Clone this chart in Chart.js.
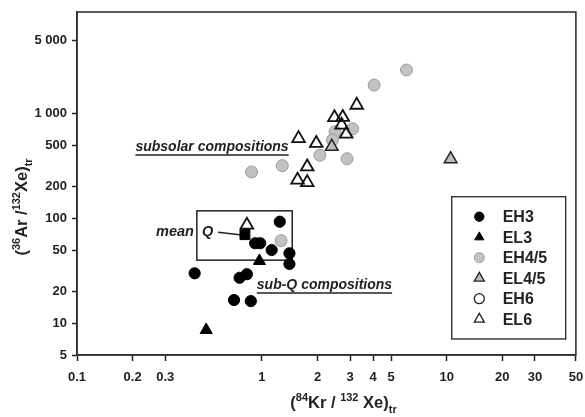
<!DOCTYPE html>
<html><head><meta charset="utf-8">
<script src="https://cdn.jsdelivr.net/npm/chart.js@4.4.1/dist/chart.umd.min.js"></script>
<style>html,body{margin:0;padding:0;background:#fff;} canvas{display:block;}</style>
</head><body>
<canvas id="c" width="585" height="417" style="width:585px;height:417px"></canvas>
<script>
// ---- tick labels ----
const xTicks = [0.1,0.2,0.3,1,2,3,4,5,10,20,30,50];
const xTickLabels = ['0.1','0.2','0.3','1','2','3','4','5','10','20','30','50'];
const yTicks = [5,10,20,50,100,200,500,1000,5000];
const yTickLabels = ['5','10','20','50','100','200','500','1 000','5 000'];

// ---- series (84Kr/132Xe, 36Ar/132Xe) ----
const EH3_x  = [1.25,0.92,0.98,1.13,1.41,1.41,0.433,0.758,0.83,0.707,0.872];
const EH3_y  = [93,58,58,50,46.5,36.8,30,27.2,29.4,16.7,16.3];
const EL3_x  = [0.97,0.50];
const EL3_y  = [39.3,8.65];
const EH45_x = [6.06,4.05,2.49,3.10,2.41,2.06,2.89,1.29,0.88,1.27];
const EH45_y = [2590,1860,670,714,558,399,370,318,277,61.3];
const EL45_x = [2.39,10.5];
const EL45_y = [482,368];
const EH6_x  = [];
const EH6_y  = [];
const EL6_x  = [3.26,2.47,2.74,2.70,2.86,1.58,1.97,1.76,1.56,1.76,0.83];
const EL6_y  = [1200,914,918,775,636,577,519,310,232,220,86.5];
const meanQ_x = [0.81];
const meanQ_y = [70];

// ---- annotation anchors (data units) ----
const qBoxX = [0.445, 1.46];
const qBoxY = [40, 118];
const subsolarAt = [0.207, 478];
const subQAt = [0.939, 23.2];
const meanQAt = [0.546, 74];
const meanQLine = [[0.58, 73.7],[0.78, 69.5]];

const pts = (xs, ys) => xs.map((v,i)=>({x:v, y:ys[i]}));
const FONT = '"Liberation Sans", Arial, Helvetica, sans-serif';

const legendItems = [
  {label:'EH3', style:'circle', fill:'#000', stroke:'#000', r:4.7, lw:1},
  {label:'EL3', style:'triangle', fill:'#000', stroke:'#000', r:5.3, lw:1},
  {label:'EH4/5', style:'circle', fill:'#c2c2c2', stroke:'#9c9c9c', r:5, lw:1},
  {label:'EL4/5', style:'triangle', fill:'#bdbdbd', stroke:'#222', r:5.8, lw:1.3},
  {label:'EH6', style:'circle', fill:'#fff', stroke:'#222', r:5, lw:1.3},
  {label:'EL6', style:'triangle', fill:'#fff', stroke:'#222', r:5.8, lw:1.3}
];

function marker(ctx, it, x, y){
  ctx.beginPath();
  if (it.style === 'circle') {
    ctx.arc(x, y, it.r, 0, Math.PI*2);
  } else {
    const r = it.r;
    ctx.moveTo(x, y - r);
    ctx.lineTo(x + r*Math.sin(2*Math.PI/3), y - r*Math.cos(2*Math.PI/3));
    ctx.lineTo(x + r*Math.sin(4*Math.PI/3), y - r*Math.cos(4*Math.PI/3));
    ctx.closePath();
  }
  ctx.fillStyle = it.fill; ctx.fill();
  ctx.strokeStyle = it.stroke; ctx.lineWidth = it.lw; ctx.stroke();
}

function rich(ctx, parts, cx, cy){
  let total = 0;
  parts.forEach(p => { ctx.font = `bold ${p.s}px ${FONT}`; p.w = ctx.measureText(p.t).width; total += p.w; });
  let xx = cx - total/2;
  ctx.textAlign = 'left'; ctx.textBaseline = 'alphabetic';
  parts.forEach(p => { ctx.font = `bold ${p.s}px ${FONT}`; ctx.fillText(p.t, xx, cy + (p.dy||0)); xx += p.w; });
}

const decor = {
  id: 'decor',
  beforeDatasetsDraw(chart){
    const {ctx, chartArea:a, scales:{x, y}} = chart;
    ctx.save();
    ctx.strokeStyle = '#333'; ctx.lineWidth = 1.6;
    ctx.strokeRect(a.left, a.top, a.right - a.left, a.bottom - a.top);
    // mean-Q box
    const bx1 = x.getPixelForValue(qBoxX[0]), bx2 = x.getPixelForValue(qBoxX[1]);
    const by1 = y.getPixelForValue(qBoxY[1]), by2 = y.getPixelForValue(qBoxY[0]);
    ctx.strokeStyle = '#222'; ctx.lineWidth = 1.5;
    ctx.strokeRect(bx1, by1, bx2 - bx1, by2 - by1);
    // leader line
    ctx.beginPath();
    ctx.moveTo(x.getPixelForValue(meanQLine[0][0]), y.getPixelForValue(meanQLine[0][1]));
    ctx.lineTo(x.getPixelForValue(meanQLine[1][0]), y.getPixelForValue(meanQLine[1][1]));
    ctx.lineWidth = 1.5; ctx.stroke();
    // texts
    ctx.fillStyle = '#222'; ctx.textBaseline = 'middle';
    ctx.font = `italic bold 14px ${FONT}`;
    const underlined = (txt, at) => {
      const px = x.getPixelForValue(at[0]), py = y.getPixelForValue(at[1]);
      ctx.textAlign = 'left';
      ctx.fillText(txt, px, py);
      const w = ctx.measureText(txt).width;
      ctx.beginPath(); ctx.moveTo(px, py + 8); ctx.lineTo(px + w, py + 8);
      ctx.lineWidth = 1.4; ctx.strokeStyle = '#222'; ctx.stroke();
    };
    underlined('subsolar compositions', subsolarAt);
    underlined('sub-Q compositions', subQAt);
    ctx.font = `italic bold 14.5px ${FONT}`;
    ctx.textAlign = 'right';
    ctx.fillText('mean  Q', x.getPixelForValue(meanQAt[0]), y.getPixelForValue(meanQAt[1]));
    ctx.restore();
  },
  afterDraw(chart){
    const {ctx, chartArea:a} = chart;
    ctx.save();
    // legend box
    const L = a.left + 374.7, T = a.top + 184.7, W = 114, H = 142.3;
    ctx.strokeStyle = '#333'; ctx.lineWidth = 1.4;
    ctx.strokeRect(L, T, W, H);
    legendItems.forEach((it, i) => {
      const yy = T + 20 + i*20.5;
      marker(ctx, it, L + 27.6, yy);
      ctx.fillStyle = '#222';
      ctx.font = `bold 16px ${FONT}`;
      ctx.textAlign = 'left'; ctx.textBaseline = 'middle';
      ctx.fillText(it.label, L + 51, yy + 1);
    });
    // axis titles
    ctx.fillStyle = '#222';
    rich(ctx, [
      {t:'(', s:16.5}, {t:'84', s:11, dy:-7}, {t:'Kr / ', s:16.5},
      {t:'132', s:11, dy:-7}, {t:' Xe)', s:16.5}, {t:'tr', s:11, dy:5}
    ], 343.5, 408);
    ctx.translate(27, 207);
    ctx.rotate(-Math.PI/2);
    rich(ctx, [
      {t:'(', s:16.5}, {t:'36', s:11, dy:-7}, {t:'Ar /', s:16.5},
      {t:'132', s:11, dy:-7}, {t:'Xe)', s:16.5}, {t:'tr', s:11, dy:5}
    ], 0, 0);
    ctx.restore();
  }
};

new Chart(document.getElementById('c'), {
  type: 'scatter',
  data: {
    datasets: [
      {label:'mean Q', data:pts(meanQ_x, meanQ_y), pointStyle:'rect', pointRadius:7, backgroundColor:'#000', borderColor:'#000', borderWidth:1, order:0},
      {label:'EH3', data:pts(EH3_x, EH3_y), pointStyle:'circle', pointRadius:5.6, backgroundColor:'#000', borderColor:'#000', borderWidth:1, order:1},
      {label:'EL3', data:pts(EL3_x, EL3_y), pointStyle:'triangle', pointRadius:7, backgroundColor:'#000', borderColor:'#000', borderWidth:1, order:1},
      {label:'EL4/5', data:pts(EL45_x, EL45_y), pointStyle:'triangle', pointRadius:7.3, backgroundColor:'#bdbdbd', borderColor:'#222', borderWidth:1.5, order:2},
      {label:'EL6', data:pts(EL6_x, EL6_y), pointStyle:'triangle', pointRadius:7.3, backgroundColor:'rgba(255,255,255,0)', borderColor:'#111', borderWidth:1.8, order:3},
      {label:'EH6', data:pts(EH6_x, EH6_y), pointStyle:'circle', pointRadius:5.5, backgroundColor:'#fff', borderColor:'#222', borderWidth:1.3, order:4},
      {label:'EH4/5', data:pts(EH45_x, EH45_y), pointStyle:'circle', pointRadius:6, backgroundColor:'#c2c2c2', borderColor:'#9c9c9c', borderWidth:1, order:5}
    ]
  },
  options: {
    responsive: false,
    animation: false,
    layout: {padding: {top: 12, right: 5, left: 0, bottom: 0}},
    plugins: {legend: {display: false}, tooltip: {enabled: false}},
    scales: {
      x: {
        type: 'logarithmic', min: 0.1, max: 50, bounds: 'data',
        afterBuildTicks: s => { s.ticks = xTicks.map(v => ({value: v})); },
        afterFit: s => { s.height = 62; s.paddingLeft = 0; s.paddingRight = 0; },
        ticks: {autoSkip: false, maxRotation: 0, minRotation: 0, padding: 9, color: '#222',
                font: {family: FONT, size: 13, weight: 'bold'},
                callback: (v, i) => xTickLabels[i]},
        grid: {drawOnChartArea: false, drawTicks: true, tickLength: 6, tickColor: '#222', tickWidth: 1.5},
        border: {display: true, color: '#222', width: 1.5}
      },
      y: {
        type: 'logarithmic', min: 5, max: 9240, bounds: 'data',
        afterBuildTicks: s => { s.ticks = yTicks.map(v => ({value: v})); },
        afterFit: s => { s.width = 77; s.paddingTop = 0; s.paddingBottom = 0; },
        ticks: {autoSkip: false, padding: 5, color: '#222',
                font: {family: FONT, size: 13, weight: 'bold'},
                callback: (v, i) => yTickLabels[i]},
        grid: {drawOnChartArea: false, drawTicks: true, tickLength: 5, tickColor: '#222', tickWidth: 1.5},
        border: {display: true, color: '#222', width: 1.5}
      }
    }
  },
  plugins: [decor]
});
</script>
</body></html>
